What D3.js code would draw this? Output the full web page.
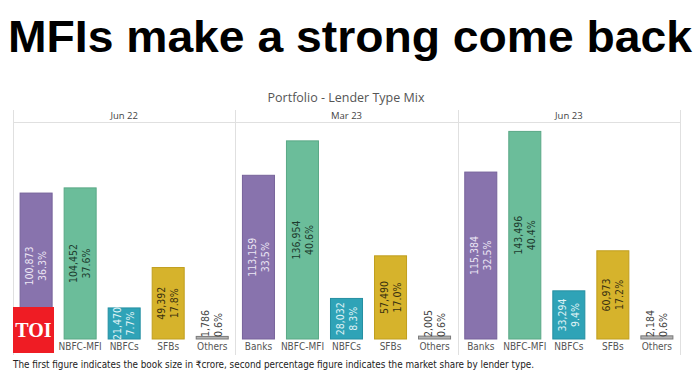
<!DOCTYPE html>
<html>
<head>
<meta charset="utf-8">
<script src="https://cdn.jsdelivr.net/npm/d3@7"></script>
<style>
  html, body { margin: 0; padding: 0; background: #fff; }
  svg { display: block; }
</style>
</head>
<body>
<svg id="chart" width="700" height="378"></svg>
<script>
// ---- data ----
const periods = ["Jun 22", "Mar 23", "Jun 23"];
const lenderTypes = ["Banks", "NBFC-MFI", "NBFCs", "SFBs", "Others"];
const bookJun22 = [100873, 104452, 21470, 49392, 1786];
const bookMar23 = [113159, 136954, 28032, 57490, 2005];
const bookJun23 = [115384, 143496, 33294, 60973, 2184];
const shareJun22 = [36.3, 37.6, 7.7, 17.8, 0.6];
const shareMar23 = [33.5, 40.6, 8.3, 17.0, 0.6];
const shareJun23 = [32.5, 40.4, 9.4, 17.2, 0.6];
const yDomainMax = 150000;

const bookByPeriod = [bookJun22, bookMar23, bookJun23];
const shareByPeriod = [shareJun22, shareMar23, shareJun23];

const fill = d3.scaleOrdinal().domain(lenderTypes)
  .range(["#8873ad", "#6bbd9a", "#2fa3b7", "#d6b32c", "#b3b3b3"]);
const stroke = d3.scaleOrdinal().domain(lenderTypes)
  .range(["#76629a", "#5aa886", "#258fa2", "#c09e1e", "#7a7a7a"]);
const labelColor = d3.scaleOrdinal().domain(lenderTypes)
  .range(["#ece6f4", "#1d3b2e", "#e0f3f6", "#3a3110", "#444"]);

const svg = d3.select("#chart");
const narrow = "'Liberation Sans Narrow','DejaVu Sans Condensed','Roboto Condensed','Open Sans',sans-serif";

// ---- title ----
svg.append("text")
  .attr("x", 350).attr("y", 52)
  .attr("text-anchor", "middle")
  .attr("font-family", "'Liberation Sans', Arial, sans-serif")
  .attr("font-weight", "bold")
  .attr("font-size", 45)
  .attr("textLength", 684).attr("lengthAdjust", "spacingAndGlyphs")
  .attr("fill", "#000")
  .text("MFIs make a strong come back");

svg.append("text")
  .attr("x", 346).attr("y", 102)
  .attr("text-anchor", "middle")
  .attr("font-family", "'Open Sans', 'Liberation Sans', sans-serif")
  .attr("font-size", 12.5)
  .attr("fill", "#555")
  .text("Portfolio - Lender Type Mix");

// ---- scales ----
const left = 13, right = 680, headerTop = 110, headerBottom = 122, baseline = 339, frameBottom = 355;
const xPanel = d3.scaleBand().domain(periods).range([left, right]).padding(0);
const xInner = d3.scaleBand().domain(lenderTypes).range([0, xPanel.bandwidth()])
  .paddingInner(0.25).paddingOuter(0.15);
const y = d3.scaleLinear().domain([0, yDomainMax]).range([baseline, headerBottom]);

// frame
const frame = svg.append("g").attr("stroke", "#e0e0e0").attr("stroke-width", 1);
frame.append("line").attr("x1", left).attr("x2", right)
  .attr("y1", headerBottom + 0.5).attr("y2", headerBottom + 0.5);
[...periods.map(p => xPanel(p)), right].forEach(xv => {
  frame.append("line").attr("x1", Math.round(xv) + 0.5).attr("x2", Math.round(xv) + 0.5)
    .attr("y1", headerTop).attr("y2", frameBottom);
});

periods.forEach((p, pi) => {
  const g = svg.append("g").attr("transform", `translate(${xPanel(p)},0)`);
  g.append("text")
    .attr("x", xPanel.bandwidth() / 2).attr("y", 119)
    .attr("text-anchor", "middle")
    .attr("font-family", "'Open Sans', 'Liberation Sans', sans-serif")
    .attr("font-size", 9.5).attr("fill", "#444")
    .text(p);

  const rows = lenderTypes.map((t, i) => ({ t, v: bookByPeriod[pi][i], s: shareByPeriod[pi][i] }));

  g.selectAll("rect.bar").data(rows).join("rect")
    .attr("class", "bar")
    .attr("x", d => xInner(d.t) + 0.5)
    .attr("width", xInner.bandwidth() - 1)
    .attr("y", d => y(d.v))
    .attr("height", d => baseline - y(d.v))
    .attr("fill", d => fill(d.t))
    .attr("stroke", d => stroke(d.t))
    .attr("stroke-width", 1);

  // value labels (rotated)
  rows.forEach(d => {
    const cx = xInner(d.t) + xInner.bandwidth() / 2;
    const h = baseline - y(d.v);
    const labelLen = 30;
    let cy, anchor;
    if (h >= labelLen) { cy = (y(d.v) + baseline) / 2; anchor = "middle"; }
    else { cy = baseline - 2; anchor = "start"; }
    const lg = g.append("g").attr("transform", `translate(${cx},${cy}) rotate(-90)`);
    lg.append("text").attr("x", 0).attr("y", -6.5).attr("dy", "0.35em")
      .attr("text-anchor", anchor)
      .attr("font-family", narrow).attr("font-size", 10.5)
      .attr("fill", labelColor(d.t))
      .text(d3.format(",")(d.v));
    lg.append("text").attr("x", 0).attr("y", 6.5).attr("dy", "0.35em")
      .attr("text-anchor", anchor)
      .attr("font-family", narrow).attr("font-size", 10.5)
      .attr("fill", labelColor(d.t))
      .text(d3.format(".1f")(d.s) + "%");
  });

  // category axis
  const axis = d3.axisBottom(xInner).tickSize(0).tickPadding(0);
  const ag = g.append("g").attr("transform", `translate(0,${baseline + 4})`).call(axis);
  ag.select(".domain").remove();
  ag.selectAll("text")
    .attr("dy", "0.71em")
    .attr("font-family", narrow).attr("font-size", 10).attr("fill", "#555");
});

// TOI logo
svg.append("rect").attr("x", 13).attr("y", 307).attr("width", 41).attr("height", 46).attr("fill", "#ef1c24");
svg.append("text").attr("x", 33.5).attr("y", 337)
  .attr("text-anchor", "middle")
  .attr("font-family", "'Liberation Serif', 'DejaVu Serif', serif")
  .attr("font-weight", "bold").attr("font-size", 20).attr("fill", "#fff")
  .text("TOI");

// footnote
svg.append("text").attr("x", 13).attr("y", 368)
  .attr("font-family", narrow).attr("font-size", 10).attr("fill", "#222")
  .attr("textLength", 521).attr("lengthAdjust", "spacingAndGlyphs")
  .text("The first figure indicates the book size in ₹crore, second percentage figure indicates the market share by lender type.");
</script>
</body>
</html>
